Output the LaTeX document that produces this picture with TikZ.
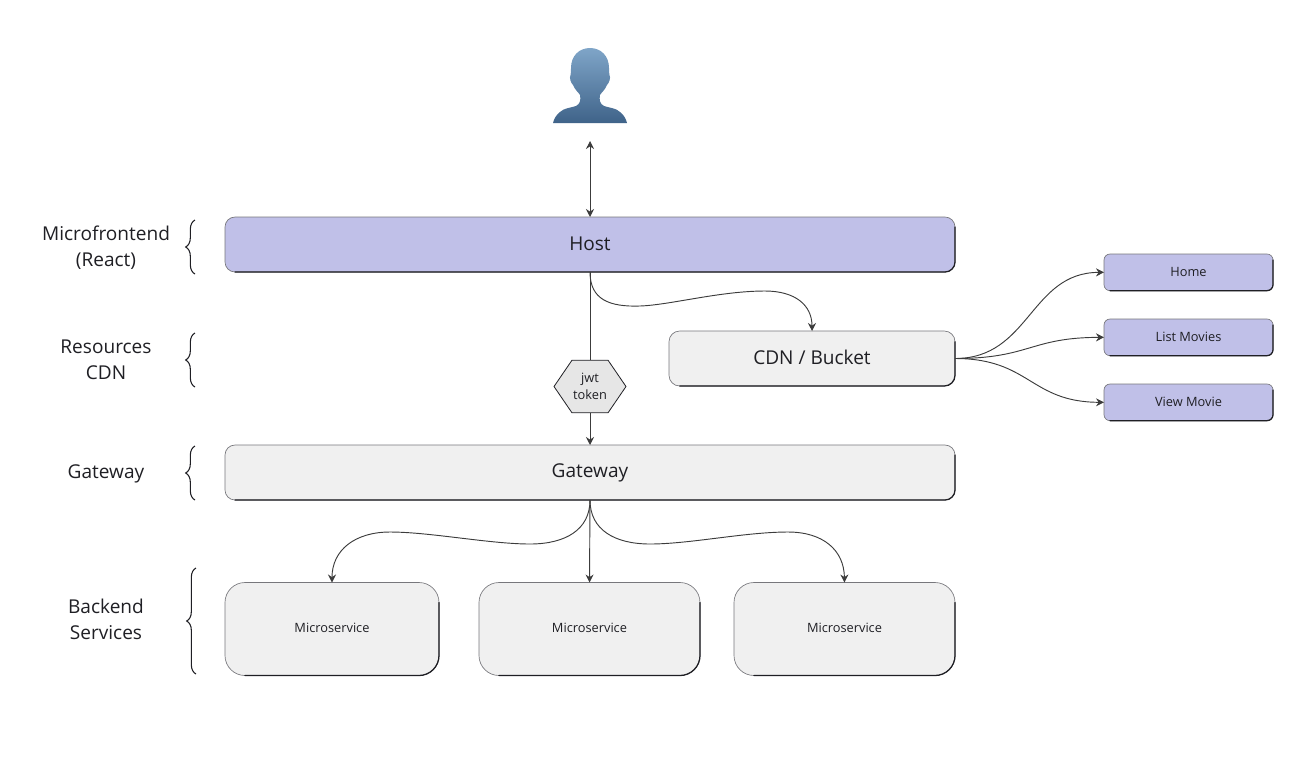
\documentclass[tikz,border=0pt]{standalone}
\usepackage{fontspec}
\setmainfont{Open Sans}
\usetikzlibrary{arrows.meta,decorations.pathreplacing}
\definecolor{lav}{HTML}{C0C0E8}
\definecolor{pale}{HTML}{F0F0F0}
\definecolor{hexfill}{HTML}{E6E6E6}
\definecolor{ink}{HTML}{1F1F24}
\definecolor{rim}{HTML}{77777C}
\definecolor{wire}{HTML}{3C3C3C}
\definecolor{usertop}{HTML}{7FA5C8}
\definecolor{userbot}{HTML}{3F6389}
\newcommand{\lift}[1]{\raisebox{0.75pt}{#1}}
\newcommand{\liftmore}[1]{\raisebox{1.5pt}{#1}}
\tikzset{
  x=0.75pt,y=-0.75pt,
  blockbox/.style={draw=rim,line width=0.5pt,inner sep=0pt,outer sep=0pt,align=center,text=ink,anchor=north west},
  bigtext/.style={font=\fontsize{14.3pt}{17pt}\selectfont},
  smalltext/.style={font=\fontsize{9.6pt}{12.8pt}\selectfont},
  tagtext/.style={font=\fontsize{14.3pt}{19.5pt}\selectfont,align=center,text=ink},
  wirearrow/.style={draw=wire,line width=0.7pt,-{Stealth[length=6pt,width=6pt]}},
  wireplain/.style={draw=wire,line width=0.7pt},
  rimdark/.style={draw=ink,line width=0.95pt,line cap=round},
  bracket/.style={draw=ink,line width=0.8pt,decorate,decoration={brace,amplitude=7pt}}
}
\newcommand{\darkedge}[2]{%
  \draw[rimdark,rounded corners=#2] ([xshift=#2]#1.south west) -- (#1.south east) -- ([yshift=-#2]#1.north east);
}
\begin{document}
\begin{tikzpicture}
\useasboundingbox (0,0) rectangle (1305,765);

% user silhouette
\shade[top color=usertop,bottom color=userbot]
  (590,48) .. controls (601,48) and (609,56) .. (609,68)
  .. controls (609,71) and (609,73) .. (609.5,75)
  .. controls (611,78) and (609,83) .. (607,85)
  .. controls (605,90) and (601,93) .. (600,95)
  .. controls (599,100) and (600,104) .. (604,106)
  .. controls (610,108) and (616,108) .. (620,112)
  .. controls (624,115) and (626,119) .. (627,123)
  -- (553,123)
  .. controls (554,119) and (556,115) .. (560,112)
  .. controls (564,108) and (570,108) .. (576,106)
  .. controls (580,104) and (581,100) .. (580,95)
  .. controls (579,93) and (575,90) .. (573,85)
  .. controls (571,83) and (569,78) .. (570.5,75)
  .. controls (571,73) and (571,71) .. (571,68)
  .. controls (571,56) and (579,48) .. (590,48) -- cycle;
\coordinate (userfoot) at (590,141);

% boxes
\node[blockbox,fill=lav,bigtext,minimum width=547.5pt,minimum height=41.25pt,rounded corners=7.5pt] (host) at (225,217) {\lift{Host}};
\node[blockbox,fill=pale,bigtext,minimum width=547.5pt,minimum height=41.25pt,rounded corners=7.5pt] (gateway) at (225,445) {Gateway};
\node[blockbox,fill=pale,bigtext,minimum width=214.5pt,minimum height=41.25pt,rounded corners=8pt] (cdn) at (669,331) {\liftmore{CDN / Bucket}};
\node[blockbox,fill=lav,smalltext,minimum width=126.75pt,minimum height=27.5pt,rounded corners=4.5pt] (home) at (1104,254) {Home};
\node[blockbox,fill=lav,smalltext,minimum width=126.75pt,minimum height=27.5pt,rounded corners=4.5pt] (list) at (1104,319) {\lift{List Movies}};
\node[blockbox,fill=lav,smalltext,minimum width=126.75pt,minimum height=27.5pt,rounded corners=4.5pt] (view) at (1104,384) {\lift{View Movie}};
\node[blockbox,fill=pale,smalltext,minimum width=160.5pt,minimum height=69.75pt,rounded corners=15pt] (ms1) at (225,582.5) {\liftmore{Microservice}};
\node[blockbox,fill=pale,smalltext,minimum width=165.75pt,minimum height=69.75pt,rounded corners=15pt] (ms2) at (479,582.5) {\liftmore{Microservice}};
\node[blockbox,fill=pale,smalltext,minimum width=165.75pt,minimum height=69.75pt,rounded corners=15pt] (ms3) at (734,582.5) {\liftmore{Microservice}};

\darkedge{host}{7.5pt}
\darkedge{gateway}{7.5pt}
\darkedge{cdn}{8pt}
\darkedge{home}{4.5pt}
\darkedge{list}{4.5pt}
\darkedge{view}{4.5pt}
\darkedge{ms1}{15pt}
\darkedge{ms2}{15pt}
\darkedge{ms3}{15pt}

% connectors
\draw[wireplain,{Stealth[length=6pt,width=6pt]}-{Stealth[length=6pt,width=6pt]}] (userfoot) -- (host.north);
\node[inner sep=0pt,outer sep=0pt,minimum width=54pt,minimum height=39.5pt] (jwt) at (590,386.5) {};
\draw[wireplain] (host.south) -- (jwt.north);
\draw[wirearrow] (jwt.south) -- (gateway.north);
\draw[draw=ink,line width=0.6pt,fill=hexfill]
  (jwt.west) -- ([xshift=13.5pt]jwt.north west) -- ([xshift=-13.5pt]jwt.north east)
  -- (jwt.east) -- ([xshift=-13.5pt]jwt.south east) -- ([xshift=13.5pt]jwt.south west) -- cycle;
\node[inner sep=0pt,smalltext,align=center,text=ink] (jwtlabel) at (jwt.center) {jwt\\token};

\draw[wirearrow] (host.south) .. controls (590,300) and (610,307) .. (640,306)
  .. controls (670,305) and (720,291) .. (765,291)
  .. controls (795,291) and (812,305) .. (cdn.north);

\draw[wirearrow] (cdn.east) .. controls (1030,358.5) and (1030,272.5) .. (home.west);
\draw[wirearrow] (cdn.east) .. controls (1030,358.5) and (1030,337.5) .. (list.west);
\draw[wirearrow] (cdn.east) .. controls (1030,358.5) and (1030,402) .. (view.west);

\draw[wirearrow] (gateway.south) .. controls (590,530) and (565,544) .. (530,544)
  .. controls (490,544) and (430,532) .. (390,532)
  .. controls (355,532) and (332,550) .. (ms1.north);
\draw[wirearrow] (gateway.south) -- (ms2.north);
\draw[wirearrow] (gateway.south) .. controls (590,530) and (615,544) .. (650,544)
  .. controls (690,544) and (745,532) .. (788,532)
  .. controls (823,532) and (844,550) .. (ms3.north);

% side tags
\node[tagtext] (t1) at (106,247.5) {Microfrontend\\(React)};
\node[tagtext] (t2) at (106,360) {Resources\\CDN};
\node[tagtext] (t3) at (106,474) {Gateway};
\node[tagtext] (t4) at (106,619) {Backend\\Services};

% braces
\draw[bracket] (195,274) -- (195,220);
\draw[bracket] (195,387) -- (195,333);
\draw[bracket] (195,500) -- (195,446);
\draw[bracket] (196,674) -- (196,568);
\end{tikzpicture}
\end{document}
